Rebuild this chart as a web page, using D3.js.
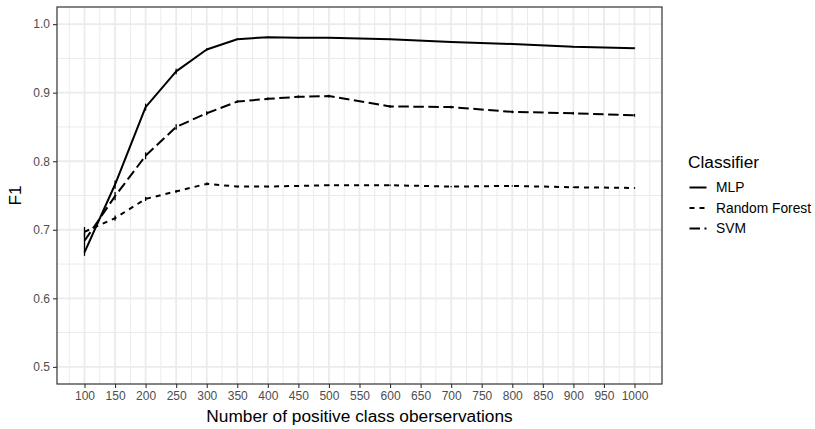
<!DOCTYPE html>
<html><head><meta charset="utf-8">
<script src="https://cdn.jsdelivr.net/npm/d3@7"></script>
<style>
html,body{margin:0;padding:0;background:#fff;}
text{font-family:"Liberation Sans",Arial,Helvetica,sans-serif;}
</style></head>
<body><svg id="chart" width="815" height="429"></svg>
<script>
// ---- data ----
const xValues = [100,150,200,250,300,350,400,450,500,600,700,800,900,1000];
const mlp = [0.667,0.766,0.879,0.931,0.963,0.978,0.981,0.980,0.980,0.978,0.974,0.971,0.967,0.965];
const randomForest = [0.697,0.717,0.745,0.756,0.767,0.763,0.763,0.764,0.765,0.765,0.763,0.764,0.762,0.761];
const svm = [0.684,0.749,0.808,0.850,0.870,0.887,0.891,0.894,0.895,0.880,0.879,0.872,0.870,0.867];
const mlpErr = [0.005,0.006,0.005,0.004,0.002,0.001,0.001,0.001,0.001,0.001,0.001,0.001,0.001,0.001];
const randomForestErr = [0.007,0.004,0.003,0.002,0.002,0.001,0.001,0.001,0.001,0.001,0.001,0.001,0.001,0.001];
const svmErr = [0.012,0.006,0.005,0.004,0.003,0.002,0.002,0.002,0.002,0.002,0.002,0.002,0.002,0.002];
const seriesNames = ["MLP","Random Forest","SVM"];
const xTicks = [100,150,200,250,300,350,400,450,500,550,600,650,700,750,800,850,900,950,1000];
const yTicks = [0.5,0.6,0.7,0.8,0.9,1.0];
const xTitle = "Number of positive class oberservations";
const yTitle = "F1";
const legendTitle = "Classifier";

const series = [
  {name: seriesNames[0], values: mlp, err: mlpErr, dash: null},
  {name: seriesNames[1], values: randomForest, err: randomForestErr, dash: "5,5"},
  {name: seriesNames[2], values: svm, err: svmErr, dash: "10.5,4.5"}
];

const svg = d3.select("#chart");
const L = 57, R = 662, T = 7, B = 384;
const x = d3.scaleLinear().domain([55,1045]).range([L,R]);
const y = d3.scaleLinear().domain([0.475,1.025]).range([B,T]);

// panel bg
svg.append("rect").attr("x",L).attr("y",T).attr("width",R-L).attr("height",B-T).attr("fill","#fff");

// grid
const xMinor = xTicks.map(d=>d-25).concat([1025]);
const yMinor = [0.55,0.65,0.75,0.85,0.95];
const g = svg.append("g");
g.selectAll(".xmin").data(xMinor).join("line")
  .attr("x1",d=>x(d)).attr("x2",d=>x(d)).attr("y1",T).attr("y2",B)
  .attr("stroke","#EBEBEB").attr("stroke-width",1);
g.selectAll(".ymin").data(yMinor).join("line")
  .attr("x1",L).attr("x2",R).attr("y1",d=>y(d)).attr("y2",d=>y(d))
  .attr("stroke","#EBEBEB").attr("stroke-width",1);
g.selectAll(".xmaj").data(xTicks).join("line")
  .attr("x1",d=>x(d)).attr("x2",d=>x(d)).attr("y1",T).attr("y2",B)
  .attr("stroke","#EBEBEB").attr("stroke-width",1.8);
g.selectAll(".ymaj").data(yTicks).join("line")
  .attr("x1",L).attr("x2",R).attr("y1",d=>y(d)).attr("y2",d=>y(d))
  .attr("stroke","#EBEBEB").attr("stroke-width",1.8);

// lines
const line = d3.line().x(d=>x(d[0])).y(d=>y(d[1]));
series.forEach(s=>{
  const pts = xValues.map((xv,i)=>[xv,s.values[i]]);
  svg.append("g").selectAll("line").data(xValues.map((xv,i)=>[xv,s.values[i],s.err[i]])).join("line")
    .attr("x1",d=>x(d[0])).attr("x2",d=>x(d[0]))
    .attr("y1",d=>y(d[1]-d[2])).attr("y2",d=>y(d[1]+d[2]))
    .attr("stroke","#000").attr("stroke-width",1.3);
  svg.append("path").datum(pts).attr("d",line)
    .attr("fill","none").attr("stroke","#000").attr("stroke-width",2)
    .attr("stroke-linejoin","round")
    .attr("stroke-dasharray",s.dash);
});

// border
svg.append("rect").attr("x",L).attr("y",T).attr("width",R-L).attr("height",B-T)
  .attr("fill","none").attr("stroke","#333").attr("stroke-width",1.2);

// axes
const xAxis = svg.append("g").attr("transform",`translate(0,${B})`)
  .call(d3.axisBottom(x).tickValues(xTicks).tickSize(4).tickPadding(3).tickFormat(d3.format("d")));
const yAxis = svg.append("g").attr("transform",`translate(${L},0)`)
  .call(d3.axisLeft(y).tickValues(yTicks).tickSize(4).tickPadding(3).tickFormat(d3.format(".1f")));
[xAxis,yAxis].forEach(a=>{
  a.select(".domain").remove();
  a.selectAll(".tick line").attr("stroke","#333").attr("stroke-width",1.1);
  a.selectAll(".tick text").attr("fill","#4D4D4D").style("font-size","12px")
    .style("font-family",'"Liberation Sans",Arial,Helvetica,sans-serif');
});

// titles
svg.append("text").attr("x",(L+R)/2).attr("y",422).attr("text-anchor","middle")
  .style("font-size","17.3px").attr("fill","#000").text(xTitle);
svg.append("text").attr("transform",`translate(21,${(T+B)/2}) rotate(-90)`).attr("text-anchor","middle")
  .style("font-size","17.3px").attr("fill","#000").text(yTitle);

// legend
const lg = svg.append("g");
lg.append("text").attr("x",688).attr("y",168).style("font-size","17.3px").attr("fill","#000").text(legendTitle);
const ly = [187.5, 208, 228.5];
series.forEach((s,i)=>{
  lg.append("line").attr("x1",689.5).attr("x2",706.5).attr("y1",ly[i]).attr("y2",ly[i])
    .attr("stroke","#000").attr("stroke-width",2).attr("stroke-dasharray",s.dash);
  lg.append("text").attr("x",716).attr("y",ly[i]+4.8).style("font-size","13.8px").attr("fill","#000").text(s.name);
});
</script></body></html>
